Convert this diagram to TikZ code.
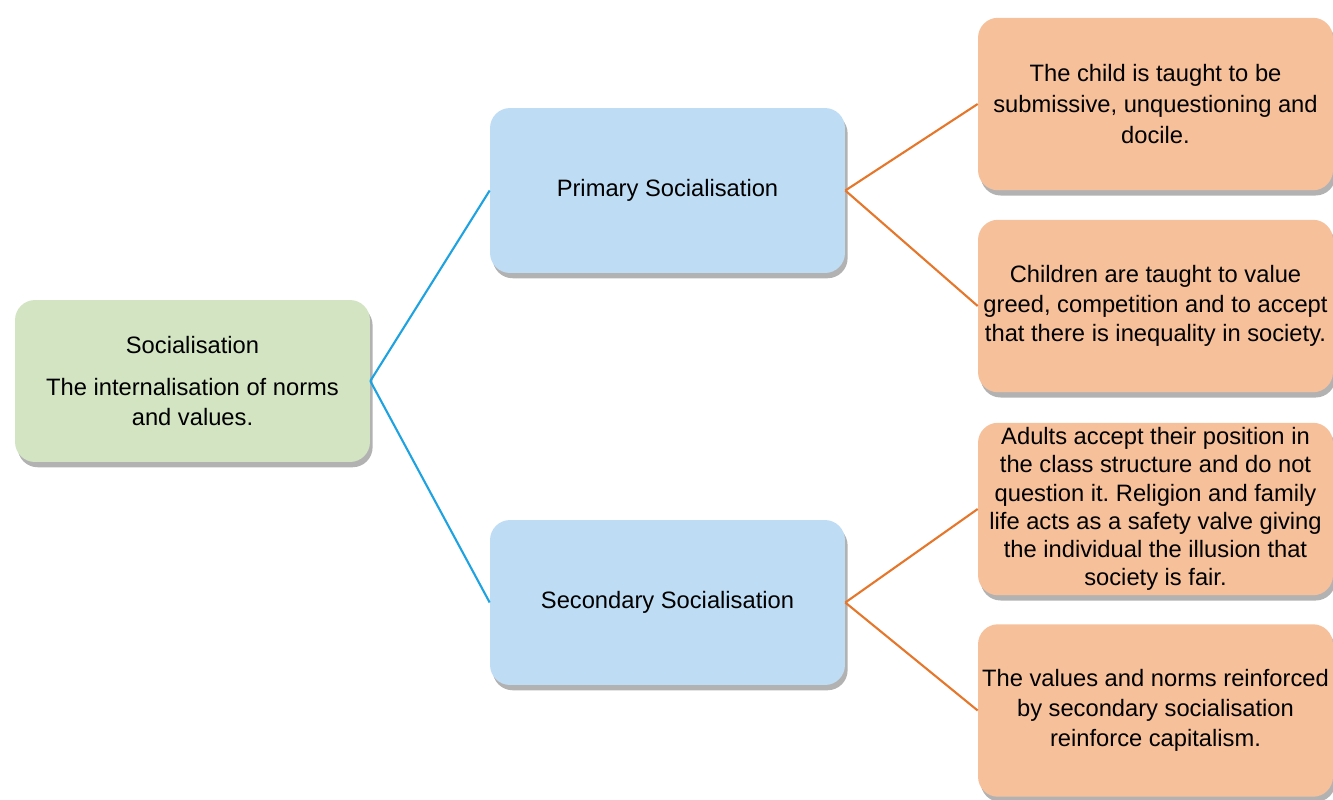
\documentclass[tikz,border=0pt]{standalone}
\usepackage{fontspec}
\setmainfont{Liberation Sans}
\usetikzlibrary{positioning, shadows}
\frenchspacing
\definecolor{rootfill}{HTML}{D2E4C1}
\definecolor{levelfill}{HTML}{BEDDF4}
\definecolor{effectfill}{HTML}{F6C09A}
\definecolor{bluelink}{HTML}{1FA2E0}
\definecolor{orangelink}{HTML}{E5762A}
\tikzset{
  box/.style={rounded corners=0.4cm, align=center, inner sep=0pt,
    minimum width=7.1cm,
    font=\fontsize{13.5}{16.9}\selectfont,
    drop shadow={shadow xshift=1.5pt, shadow yshift=-3pt, fill=black!55, opacity=0.55}},
  rootbox/.style={box, fill=rootfill, minimum height=3.24cm},
  levelbox/.style={box, fill=levelfill, minimum height=3.3cm},
  effectbox/.style={box, fill=effectfill, minimum height=3.45cm},
}

\begin{document}
\frenchspacing
\begin{tikzpicture}[x=0.02cm, y=-0.02cm]
            \useasboundingbox (0,0) rectangle (1333,799);

            \node [rootbox] (root) at (192.5,381) {Socialisation\\[7pt]The internalisation of norms\\and values.};
            \node [levelbox] (prim) at (667.5,190.5) {Primary Socialisation};
            \node [levelbox] (sec) at (667.5,602.5) {Secondary Socialisation};

            \node [effectbox, font=\fontsize{13.5}{17.6}\selectfont] (e1) at (1155.5,104) {The child is taught to be\\submissive, unquestioning and\\docile.};
            \node [effectbox] (e2) at (1155.5,306) {Children are taught to value\\greed, competition and to accept\\that there is inequality in society.};
            \node [effectbox, font=\fontsize{13.5}{16}\selectfont] (e3) at (1155.5,509) {Adults accept their position in\\the class structure and do not\\question it. Religion and family\\life acts as a safety valve giving\\the individual the illusion that\\society is fair.};
            \node [effectbox] (e4) at (1155.5,710.5) {The values and norms reinforced\\by secondary socialisation\\reinforce capitalism.};

            \draw[bluelink, line width=1.2pt] (root.east) -- (prim.west);
            \draw[bluelink, line width=1.2pt] (root.east) -- (sec.west);
            \draw[orangelink, line width=1.2pt] (prim.east) -- (e1.west);
            \draw[orangelink, line width=1.2pt] (prim.east) -- (e2.west);
            \draw[orangelink, line width=1.2pt] (sec.east) -- (e3.west);
            \draw[orangelink, line width=1.2pt] (sec.east) -- (e4.west);
        \end{tikzpicture}
\end{document}
